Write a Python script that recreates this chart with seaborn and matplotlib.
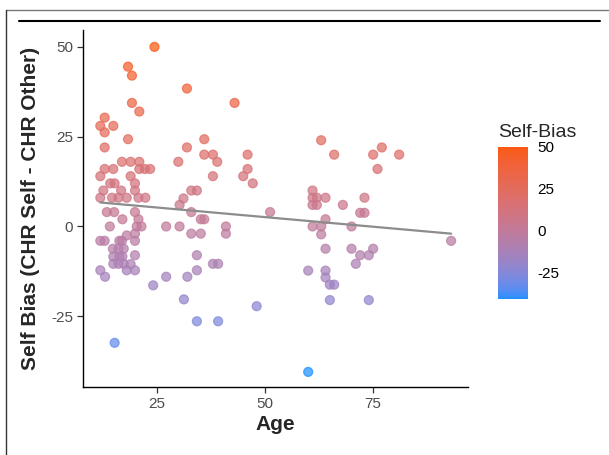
import numpy as np
import matplotlib
matplotlib.use("Agg")
import matplotlib.pyplot as plt
import seaborn as sns
from matplotlib.colors import ListedColormap, Normalize, to_rgb
from matplotlib.cm import ScalarMappable
from matplotlib.lines import Line2D

# ---------------- data ----------------
age = [24.5, 18.4, 19.3, 32, 43, 19.3, 21, 13, 12, 15, 13, 18.4, 36, 13, 32, 36, 38, 46,
       17, 19, 21, 30, 39,
       13, 15, 21, 22.3, 23.5, 46,
       12, 19, 38, 45,
       14.3, 15.3, 20, 47.2,
       12.7, 16.8, 20, 33, 34.3,
       12, 14.7, 16.2, 18.1, 20.8, 22.4, 31.2,
       30.3,
       13.5, 15.2, 20, 33, 51.2,
       17.1, 20.8, 35.2, 36,
       14.2, 20.4, 21.5, 27.2, 30.3, 41,
       18.1, 20, 33, 35.2, 41,
       12, 13, 16.4, 17, 20,
       14.9, 16.2, 17.4,
       15, 16.4, 17.1, 20, 34.3,
       15, 16.2, 17.4, 19, 38, 39.2,
       12, 18.1, 20, 34.3,
       13.1, 27.2, 32.1,
       24.2, 31.3, 48.1, 34.3, 39.2, 15.3,
       63, 66, 75, 77, 81, 76,
       61, 61, 62, 64, 73,
       61, 62, 68,
       72, 73, 64,
       61, 63, 70, 63, 93,
       64, 70, 75, 72, 74, 71,
       60, 64, 64, 65, 66, 65, 74, 60]
self_bias = [50, 44.5, 42, 38.4, 34.4, 34.4, 32, 30.3, 28, 28, 26.2, 24.3, 24.3, 22, 22, 20, 20, 20,
             18, 18, 18, 18, 18,
             16, 16, 16, 16, 16, 16,
             14, 14, 14, 14,
             12, 12, 12, 12,
             10, 10, 10, 10, 10,
             8, 8, 8, 8, 8, 8, 7.8,
             6,
             4, 4, 4, 4, 4,
             2, 2, 2, 2,
             0, 0, 0, 0, 0, 0,
             -2.5, -2, -2, -2, -2,
             -4, -4, -4, -4, -4,
             -6.2, -6.2, -6.2,
             -8.4, -8.4, -8.4, -8, -8,
             -10.4, -10.4, -10.4, -10.5, -10.4, -10.4,
             -12.2, -12.2, -12.2, -12.2,
             -14, -14, -14,
             -16.4, -20.3, -22.2, -26.4, -26.4, -32.4,
             24, 20, 20, 22, 20, 16,
             10, 8, 8, 8, 8,
             6, 6, 6,
             3.8, 3.8, 2,
             0, 0, 0, -2.2, -4,
             -6.2, -6.2, -6.2, -8, -8, -10.4,
             -12.3, -12.3, -14.2, -16.2, -16.2, -20.5, -20.5, -40.5]

x_ticks = [25, 50, 75]
y_ticks = [-25, 0, 25, 50]
cbar_ticks = [-25, 0, 25, 50]

# ---------------- colour scale: Lab interpolation like ggplot ----------------
_M = np.array([[0.4124, 0.3576, 0.1805], [0.2126, 0.7152, 0.0722], [0.0193, 0.1192, 0.9505]])
_Minv = np.linalg.inv(_M)
_white = _M @ np.ones(3)


def _to_lab(c):
    c = np.asarray(to_rgb(c))
    lin = np.where(c <= 0.04045, c / 12.92, ((c + 0.055) / 1.055) ** 2.4)
    xyz = (_M @ lin) / _white
    f = np.where(xyz > 0.008856, np.cbrt(xyz), 7.787 * xyz + 16 / 116)
    return np.array([116 * f[1] - 16, 500 * (f[0] - f[1]), 200 * (f[1] - f[2])])


def _from_lab(lab):
    L, a, b = lab
    fy = (L + 16) / 116
    fx = fy + a / 500
    fz = fy - b / 200
    f = np.array([fx, fy, fz])
    xyz = np.where(f ** 3 > 0.008856, f ** 3, (f - 16 / 116) / 7.787) * _white
    lin = np.clip(_Minv @ xyz, 0, 1)
    c = np.where(lin <= 0.0031308, 12.92 * lin, 1.055 * lin ** (1 / 2.4) - 0.055)
    return np.clip(c, 0, 1)


low_col, high_col = "#1E90FF", "#FA5A14"
lab_lo, lab_hi = _to_lab(low_col), _to_lab(high_col)
cmap = ListedColormap([_from_lab(lab_lo + t * (lab_hi - lab_lo)) for t in np.linspace(0, 1, 256)])
norm = Normalize(vmin=min(self_bias), vmax=max(self_bias))

# ---------------- figure ----------------
sns.set_style("ticks")
plt.rcParams["font.family"] = ["Liberation Sans", "DejaVu Sans"]
plt.rcParams["axes.unicode_minus"] = False

W, H = 609, 455
fig = plt.figure(figsize=(W / 100, H / 100), dpi=100)
ax = fig.add_axes([83 / W, 1 - 387 / H, (468 - 83) / W, (387 - 30) / H])

sns.scatterplot(x=age, y=self_bias, hue=self_bias, palette=cmap, hue_norm=norm,
                s=42, alpha=0.72, edgecolor="face", linewidth=0.9, legend=False, ax=ax)
sns.regplot(x=age, y=self_bias, scatter=False, ci=None, truncate=True,
            color="#8C8C8C", line_kws=dict(lw=1.6), ax=ax)

ax.set_xlim(8.0, 96.9)
ax.set_ylim(-44.7, 54.7)
ax.set_xticks(x_ticks)
ax.set_yticks(y_ticks)
for s in ["top", "right"]:
    ax.spines[s].set_visible(False)
for s in ["left", "bottom"]:
    ax.spines[s].set_color("black")
    ax.spines[s].set_linewidth(1.0)
ax.tick_params(direction="out", length=4, width=0.9, color="#333333",
               labelcolor="#4D4D4D", labelsize=11, pad=3)
ax.set_xlabel("Age", fontsize=15, fontweight="bold", labelpad=3)
ax.set_ylabel("Self Bias (CHR Self - CHR Other)", fontsize=15, fontweight="bold", labelpad=8)
ax.grid(False)

# colour bar
cax = fig.add_axes([498 / W, 1 - 299 / H, 30 / W, 152 / H])
cb = fig.colorbar(ScalarMappable(norm=norm, cmap=cmap), cax=cax, ticks=cbar_ticks)
cb.outline.set_visible(False)
cax.tick_params(axis="y", which="both", left=True, right=True, direction="in",
                length=5, width=1, color="white", labelsize=11, labelcolor="black", pad=7)
cax.tick_params(labelleft=False)
fig.text(498 / W, 1 - 137 / H, "Self-Bias", fontsize=14, ha="left", va="baseline")

# frame decoration
fig.add_artist(Line2D([19 / W, 600 / W], [1 - 21 / H, 1 - 21 / H], color="black", lw=1.5,
                      transform=fig.transFigure))
fig.add_artist(Line2D([6 / W, 1], [1 - 10 / H, 1 - 10 / H], color="#777777", lw=1,
                      transform=fig.transFigure))
fig.add_artist(Line2D([6 / W, 6 / W], [0, 1 - 10 / H], color="#333333", lw=1,
                      transform=fig.transFigure))

fig.savefig("out.png", dpi=100)
